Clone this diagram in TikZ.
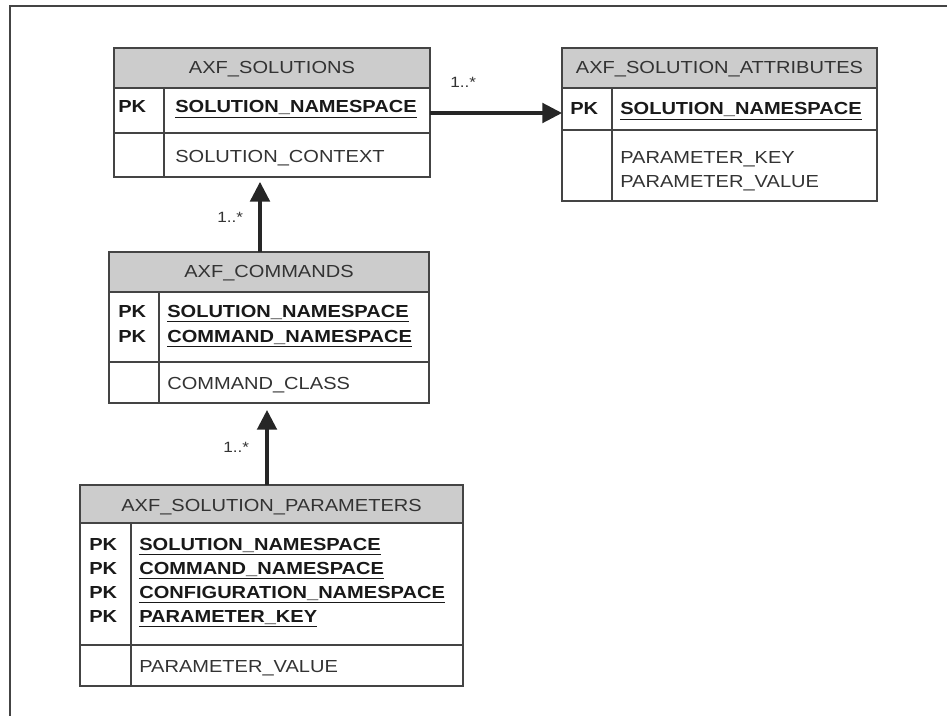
\documentclass[tikz,border=0pt]{standalone}
\usepackage{fontspec}
\setmainfont{Liberation Sans}[FakeStretch=1.15]
\usepackage{tikz}
\usetikzlibrary{arrows.meta, positioning, calc}

\definecolor{hdrgray}{RGB}{204,204,204}
\definecolor{linegray}{RGB}{68,68,68}
\definecolor{txtgray}{RGB}{51,51,51}

\tikzset{
    tbl/.style={draw=linegray, line width=1.2pt},
    hdr/.style={tbl, fill=hdrgray},
    title/.style={anchor=base, inner sep=0pt, text=txtgray},
    pk/.style={anchor=base west, inner sep=0pt, text=black!90, font=\bfseries\fontsize{12.4}{17}\selectfont},
    key/.style={pk},
    fld/.style={anchor=base west, inner sep=0pt, text=txtgray},
    card/.style={anchor=base west, inner sep=0pt, text=txtgray, font=\fontsize{10.6}{13}\selectfont},
    arr/.style={draw=black!85, line width=2.2pt, -{Triangle[length=14pt, width=14pt]}},
}

\begin{document}
\begin{tikzpicture}[x=0.025cm, y=-0.025cm, font=\fontsize{12.4}{17}\selectfont]
    \useasboundingbox (0,0) rectangle (947,716);
    \draw[linegray, line width=1.4pt] (947,6) -- (10,6) -- (10,716);

    % AXF_SOLUTIONS
    \draw[hdr] (114,48) coordinate (sol-nw) rectangle (430,88);
    \draw[tbl] (114,88) rectangle (430,133);
    \draw[tbl] (114,133) rectangle (430,177) coordinate (sol-se);
    \draw[tbl] (164,88) -- (164,177);
    \node[title] (solhead) at (272,73) {AXF\_SOLUTIONS};
    \node[pk] (solpk) at (118,113) {PK};
    \node[key] (solkey) at (175,113) {\underline{SOLUTION\_NAMESPACE}};
    \node[fld] (solctx) at (175,162) {SOLUTION\_CONTEXT};

    % AXF_SOLUTION_ATTRIBUTES
    \draw[hdr] (562,48) coordinate (att-nw) rectangle (877,88);
    \draw[tbl] (562,88) rectangle (877,130);
    \draw[tbl] (562,130) rectangle (877,201) coordinate (att-se);
    \draw[tbl] (612,88) -- (612,201);
    \node[title] (atthead) at (719.5,73) {AXF\_SOLUTION\_ATTRIBUTES};
    \node[pk] (attpk) at (570,115) {PK};
    \node[key] (attkey) at (620,115) {\underline{SOLUTION\_NAMESPACE}};
    \node[fld] (attpkey) at (620,163) {PARAMETER\_KEY};
    \node[fld] (attpval) at (620,187) {PARAMETER\_VALUE};

    % AXF_COMMANDS
    \draw[hdr] (109,252) coordinate (cmd-nw) rectangle (429,292);
    \draw[tbl] (109,292) rectangle (429,362);
    \draw[tbl] (109,362) rectangle (429,403) coordinate (cmd-se);
    \draw[tbl] (159,292) -- (159,403);
    \node[title] (cmdhead) at (269,277) {AXF\_COMMANDS};
    \node[pk] (cmdpka) at (118,317) {PK};
    \node[pk] (cmdpkb) at (118,342) {PK};
    \node[key] (cmdsol) at (167,317) {\underline{SOLUTION\_NAMESPACE}};
    \node[key] (cmdcmd) at (167,342) {\underline{COMMAND\_NAMESPACE}};
    \node[fld] (cmdclass) at (167,389) {COMMAND\_CLASS};

    % AXF_SOLUTION_PARAMETERS
    \draw[hdr] (80,485) coordinate (par-nw) rectangle (463,523);
    \draw[tbl] (80,523) rectangle (463,645);
    \draw[tbl] (80,645) rectangle (463,686) coordinate (par-se);
    \draw[tbl] (131,523) -- (131,686);
    \node[title] (parhead) at (271.5,511) {AXF\_SOLUTION\_PARAMETERS};
    \foreach \y/\k/\f in {550/a/SOLUTION\_NAMESPACE, 574/b/COMMAND\_NAMESPACE,
                          598/c/CONFIGURATION\_NAMESPACE, 622/d/PARAMETER\_KEY} {
        \node[pk] (parpk\k) at (89,\y) {PK};
        \node[key] (parkey\k) at (139,\y) {\underline{\f}};
    }
    \node[fld] (parval) at (139,672) {PARAMETER\_VALUE};

    % relations
    \draw[arr] (sol-se |- 0,113) -- (att-nw |- 0,113);
    \node[card] (carda) at (450,88) {1..*};
    \draw[arr, shorten >=3.5pt] (260,0 |- cmd-nw) -- (260,0 |- sol-se);
    \node[card] (cardb) at (217,222) {1..*};
    \draw[arr, shorten >=5pt] (267,0 |- par-nw) -- (267,0 |- cmd-se);
    \node[card] (cardc) at (223,452) {1..*};
\end{tikzpicture}
\end{document}
